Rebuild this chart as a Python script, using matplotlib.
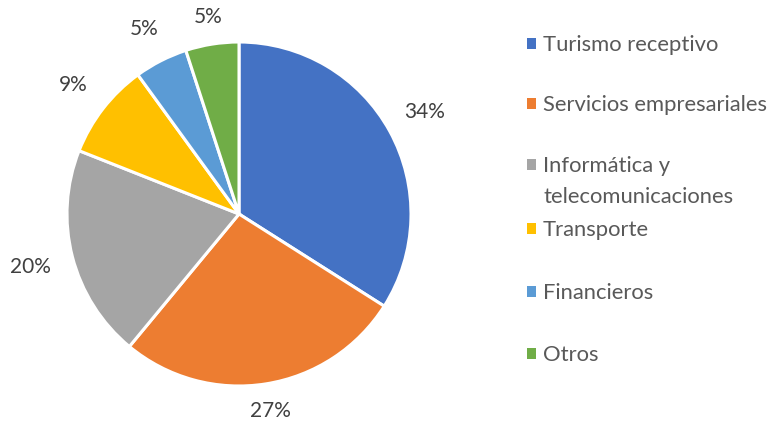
import numpy as np
import matplotlib.pyplot as plt
import matplotlib as mpl

mpl.rcParams['font.family'] = ['Lato', 'DejaVu Sans']
mpl.rcParams['font.size'] = 15

# sectores de servicios (participación %)
categorias = ['Turismo receptivo', 'Servicios empresariales', 'Informática y\ntelecomunicaciones',
              'Transporte', 'Financieros', 'Otros']
valores = [34, 27, 20, 9, 5, 5]
colores = ['#4472C4', '#ED7D31', '#A5A5A5', '#FFC000', '#5B9BD5', '#70AD47']

# distancia de cada etiqueta al centro (en radios)
dist_etiquetas = [1.23, 1.16, 1.25, 1.22, 1.21, 1.16]
# altura de cada entrada de la leyenda (px desde arriba)
y_leyenda = [45, 105, 166, 230, 293, 355]

fig = plt.figure(figsize=(7.73, 4.23), dpi=100)
ax = fig.add_axes([(239 - 172) / 773, (423 - 214 - 172) / 423, 344 / 773, 344 / 423])

wedges, texts, autotexts = ax.pie(
    valores, colors=colores, startangle=90, counterclock=False, radius=1,
    autopct=lambda p: f'{p:.0f}%', pctdistance=1.2,
    wedgeprops=dict(edgecolor='white', linewidth=2.2),
    textprops=dict(color='#404040', fontsize=15))
for w, t, d in zip(wedges, autotexts, dist_etiquetas):
    ang = np.deg2rad((w.theta1 + w.theta2) / 2)
    t.set_position((d * np.cos(ang), d * np.sin(ang)))
ax.set_xlim(-1, 1)
ax.set_ylim(-1, 1)
ax.set_aspect('equal')
ax.axis('off')

fs_ley = 15.8
for w, cat, y in zip(wedges, categorias, y_leyenda):
    lineas = cat.split('\n')
    leg = fig.legend([w], [lineas[0]], loc='center left', bbox_to_anchor=(527 / 773, 1 - y / 423),
                     frameon=False, borderpad=0, borderaxespad=0,
                     handlelength=0.41, handleheight=0.41, handletextpad=0.32,
                     fontsize=fs_ley, labelcolor='#595959')
    for h in leg.legend_handles:
        h.set_edgecolor('none')
    for k, extra in enumerate(lineas[1:], start=1):
        fig.text(543 / 773, 1 - (y + 31 * k) / 423, extra, fontsize=fs_ley,
                 color='#595959', va='center', ha='left')

plt.savefig('out.png', dpi=100)
